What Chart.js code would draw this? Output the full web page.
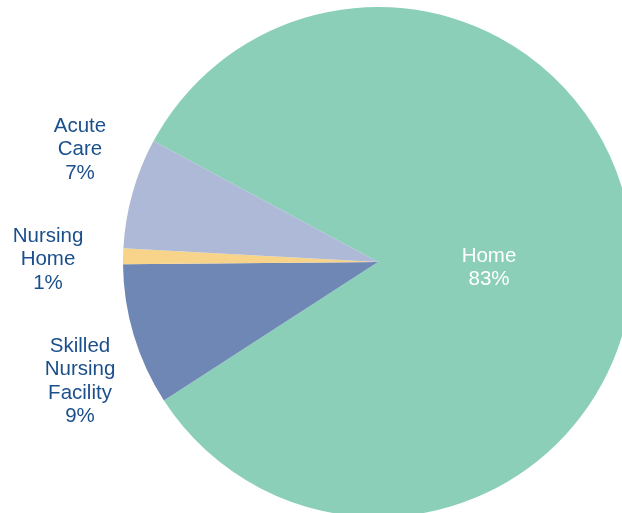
<!DOCTYPE html>
<html>
<head>
<meta charset="utf-8">
<script src="https://cdn.jsdelivr.net/npm/chart.js@4"></script>
<style>
  html, body { margin: 0; padding: 0; background: #fff; overflow: hidden; }
  #wrap { position: absolute; left: 0; top: 0; width: 756px; height: 524px; }
</style>
</head>
<body>
<div id="wrap"><canvas id="myChart"></canvas></div>
<script>
'use strict';
// pie data, clockwise starting from the Home slice
let categories = ['Home', 'Skilled Nursing Facility', 'Nursing Home', 'Acute Care'];
let shares = [83, 9, 1, 7];
let sliceColors = ['#8bcfb9', '#6f87b5', '#f7d48a', '#adb9d6'];

// label lines and where they sit on the page
let labelLines = [
    ['Home', '83%'],
    ['Skilled', 'Nursing', 'Facility', '9%'],
    ['Nursing', 'Home', '1%'],
    ['Acute', 'Care', '7%']
];
let labelPos = [[489, 256], [80, 346], [48, 236], [80, 126]];
let labelColor = ['#ffffff', '#1b4f8c', '#1b4f8c', '#1b4f8c'];

let labelPlugin = {
    id: 'pieLabels',
    afterDraw(chart) {
        let ctx = chart.ctx;
        ctx.save();
        ctx.font = '20.5px "Liberation Sans", Arial, sans-serif';
        ctx.textAlign = 'center';
        ctx.textBaseline = 'middle';
        for (let i = 0; i < labelLines.length; i++) {
            ctx.fillStyle = labelColor[i];
            let lines = labelLines[i];
            for (let j = 0; j < lines.length; j++) {
                ctx.fillText(lines[j], labelPos[i][0], labelPos[i][1] + j * 23.5);
            }
        }
        ctx.restore();
    }
};

let ctx = document.getElementById('myChart').getContext('2d');
let chart = new Chart(ctx, {
    type: 'pie',
    data: {
        labels: categories,
        datasets: [{
            data: shares,
            backgroundColor: sliceColors,
            borderWidth: 0
        }]
    },
    options: {
        responsive: true,
        maintainAspectRatio: false,
        animation: false,
        rotation: -61.7,
        layout: { padding: 7 },
        plugins: {
            legend: { display: false },
            tooltip: { enabled: false }
        }
    },
    plugins: [labelPlugin]
});
</script>
</body>
</html>
